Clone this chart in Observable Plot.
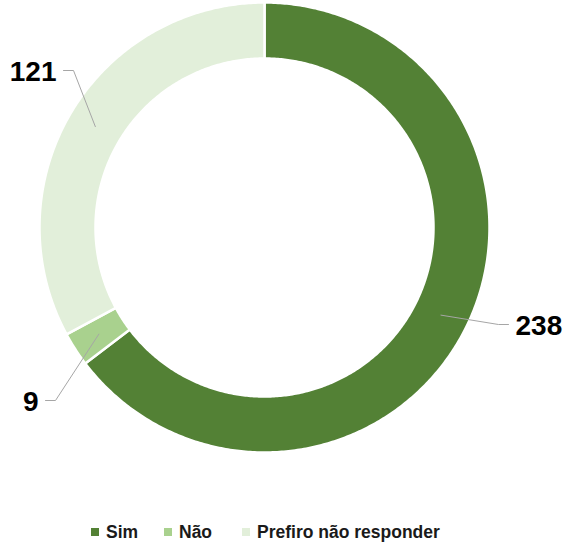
<!DOCTYPE html>
<html>
<head>
<meta charset="utf-8">
<script src="https://cdn.jsdelivr.net/npm/d3@7"></script>
<script src="https://cdn.jsdelivr.net/npm/@observablehq/plot@0.6"></script>
<style>
  html, body { margin: 0; padding: 0; background: #fff; }
  #chart { width: 567px; height: 546px; position: relative; font-family: "Liberation Sans", Arial, sans-serif; }
  .item { position: absolute; top: 522px; height: 20px; display: flex; align-items: center; font-weight: bold; font-size: 17.5px; color: #1a1a1a; white-space: nowrap; }
  .sw { width: 8px; height: 8px; margin-right: 7px; }
</style>
</head>
<body>
<div id="chart"></div>
<script>
const categories = ["Sim", "Não", "Prefiro não responder"];
const values = [238, 9, 121];
const colors = ["#538135", "#A9D18E", "#E2EFDA"];

// layout (pixels)
const W = 567, H = 505, cx = 264, cy = 227, R = 225, r = 169;
const elbows = [[234, 97], [-209, 173], [-191, -157]]; // label elbow offset from centre
const tailDir = [1, -1, -1];
const legendX = [91, 164, 242];

const total = d3.sum(values);
const angles = [];
let acc = 0;
values.forEach((v, i) => { const a0 = acc / total * 2 * Math.PI; acc += v; angles.push([a0, acc / total * 2 * Math.PI]); });

const pt = (rad, a) => ({ x: rad * Math.sin(a), y: -rad * Math.cos(a) });
const poly = [];
categories.forEach((c, i) => {
  const [a0, a1] = angles[i];
  const n = Math.max(4, Math.ceil((a1 - a0) / 0.01));
  for (let k = 0; k <= n; k++) poly.push({ cat: c, ...pt(R, a0 + (a1 - a0) * k / n) });
  for (let k = n; k >= 0; k--) poly.push({ cat: c, ...pt(r, a0 + (a1 - a0) * k / n) });
});

const leaders = [];
const labels = [];
categories.forEach((c, i) => {
  const [a0, a1] = angles[i];
  const m = pt((R + r) / 2, (a0 + a1) / 2);
  const [ex, ey] = elbows[i];
  const tx = ex + tailDir[i] * 10;
  leaders.push({ cat: c, x: m.x, y: m.y }, { cat: c, x: ex, y: ey }, { cat: c, x: tx, y: ey });
  labels.push({ cat: c, value: values[i], x: tx, y: ey, dir: tailDir[i] });
});

const plot = Plot.plot({
  width: W, height: H,
  margin: 0,
  x: { domain: [-cx, W - cx], range: [0, W], axis: null },
  y: { domain: [-cy, H - cy], range: [0, H], axis: null },
  color: { domain: categories, range: colors },
  style: { fontFamily: "Liberation Sans, Arial, sans-serif", background: "white" },
  marks: [
    Plot.line(poly, { x: "x", y: "y", z: "cat", fill: "cat", stroke: "white", strokeWidth: 2.5, curve: "linear-closed" }),
    Plot.line(leaders, { x: "x", y: "y", z: "cat", stroke: "#a6a6a6", strokeWidth: 1 }),
    Plot.text(labels.filter(d => d.dir > 0), { x: "x", y: "y", text: "value", textAnchor: "start", dx: 7, dy: 2, fontSize: 28, fontWeight: "bold", fill: "black" }),
    Plot.text(labels.filter(d => d.dir < 0), { x: "x", y: "y", text: "value", textAnchor: "end", dx: -7, dy: 2, fontSize: 28, fontWeight: "bold", fill: "black" })
  ]
});
const chart = document.getElementById("chart");
chart.appendChild(plot);

categories.forEach((c, i) => {
  const it = document.createElement("div");
  it.className = "item";
  it.style.left = legendX[i] + "px";
  it.innerHTML = `<span class="sw" style="background:${colors[i]}"></span><span>${c}</span>`;
  chart.appendChild(it);
});
</script>
</body>
</html>
